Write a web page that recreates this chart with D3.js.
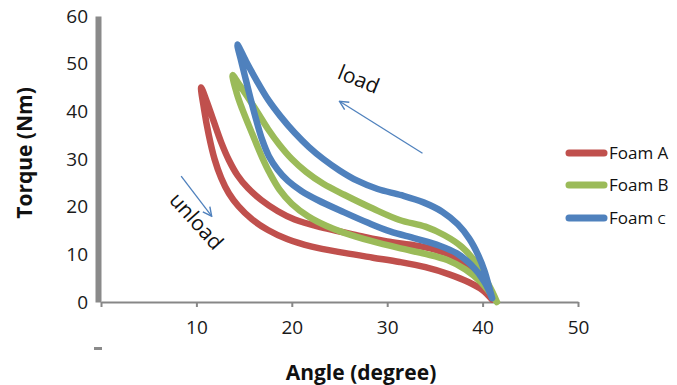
<!DOCTYPE html>
<html>
<head>
<meta charset="utf-8">
<script src="https://cdn.jsdelivr.net/npm/d3@7"></script>
<style>
  html, body { margin: 0; padding: 0; background: #fff; }
  svg { display: block; font-family: "Open Sans", "Liberation Sans", sans-serif; }
</style>
</head>
<body>
<svg id="chart" width="677" height="385"></svg>
<script>
// ---- data (angle in degrees, torque in Nm) ----
const seriesNames = ["Foam A", "Foam B", "Foam C"];
const xTicks = [0, 10, 20, 30, 40, 50];
const yTicks = [0, 10, 20, 30, 40, 50, 60];

// each loop: loading branch (from ~41°, 0 up to the peak) then unloading branch back down
const foamA = [
  [41.0,0.5],[40.2,3],[39.0,6.3],[37.3,9.2],[35.0,11],[32.5,12],[30.0,12.7],[27.5,13.7],[25.5,14.6],
  [23.0,15.7],[20.3,17.3],[18.5,19.1],[16.8,21.4],[15.4,23.9],[14.3,26.6],[13.4,29.8],[12.6,33.5],
  [11.8,38],[11.1,42],[10.5,45],
  [10.8,40.5],[11.3,35],[11.9,30],[12.6,26],[13.4,22.8],[14.4,20.1],[15.8,17.4],[17.5,15.1],[19.5,13.2],
  [22.1,11.6],[25.5,10.3],[28.5,9.3],[31.3,8.4],[34.0,7.3],[36.5,5.8],[38.5,4.2],[40.0,2.5],[41.0,0.5]
];
const foamB = [
  [41.5,0],[41.0,2.2],[40.2,5.2],[39.2,8.5],[37.8,11.6],[36.0,14],[34.0,15.8],[31.3,17.2],[28.5,19.6],
  [25.5,22.5],[23.3,24.8],[21.5,27.3],[20.0,30],[18.7,33],[17.5,36.3],[16.4,39.8],[15.3,43.2],[14.5,45.6],[13.8,47.6],
  [14.2,44],[14.8,40.5],[15.5,37],[16.2,33.6],[16.9,30.3],[17.7,27],[18.7,23.6],[20.0,20.6],[21.7,18],
  [23.6,16],[25.5,14.5],[28.3,12.8],[31.3,11.3],[34.0,10.1],[36.3,8.8],[38.2,6.8],[39.8,4.2],[41.5,0]
];
const foamC = [
  [41.0,0.8],[40.7,3],[40.2,6.5],[39.5,10],[38.6,13.3],[37.4,16.3],[35.8,18.9],[33.8,20.9],[31.5,22.4],
  [29.0,23.7],[26.8,25.5],[25.0,27.6],[23.3,30],[21.8,32.5],[20.3,35.5],[18.8,39],[17.5,42.5],[16.3,46.5],
  [15.2,50.5],[14.3,54],
  [14.7,50.5],[15.2,46.5],[15.7,42.5],[16.3,38],[16.9,34],[17.6,30.6],[18.5,27.8],[19.6,25.4],[21.0,23.3],
  [22.7,21.4],[25.5,18.8],[28.0,16.6],[30.3,14.8],[33.0,13.3],[35.5,11.8],[37.3,10.2],[38.8,7.8],[40.2,4.2],[41.0,0.8]
];
const seriesData = [foamA, foamB, foamC];
const colors = ["#C0504D", "#9BBB59", "#4F81BD"];

// annotation arrows (data coordinates: from -> to)
const loadArrow = [[33.7,31.2],[25.0,42.1]];
const unloadArrow = [[8.4,26.4],[11.6,18.0]];

// ---- layout ----
const svg = d3.select("#chart");
const x = d3.scaleLinear().domain([0, 50]).range([101, 578]);
const y = d3.scaleLinear().domain([0, 60]).range([302, 16]);

// arrow marker
svg.append("defs").append("marker")
  .attr("id", "arr").attr("viewBox", "0 0 10 10").attr("refX", 9).attr("refY", 5)
  .attr("markerWidth", 11).attr("markerHeight", 11).attr("markerUnits", "userSpaceOnUse")
  .attr("orient", "auto")
  .append("path").attr("d", "M1,1 L9,5 L1,9").attr("fill", "none")
  .attr("stroke", "#4F81BD").attr("stroke-width", 1.3);

// x axis
const gx = svg.append("g").attr("transform", `translate(0,302)`)
  .call(d3.axisBottom(x).tickValues(xTicks).tickSize(5).tickSizeOuter(0).tickPadding(14)
    .tickFormat(d => d === 0 ? "" : d));
gx.select(".domain").attr("stroke", "#878787").attr("stroke-width", 2.2);
gx.selectAll(".tick line").attr("stroke", "#878787").attr("stroke-width", 2);
gx.selectAll(".tick text").attr("font-size", 19).attr("fill", "#1a1a1a")
  .attr("font-family", "'Open Sans', sans-serif");

// y axis
const gy = svg.append("g").attr("transform", `translate(98,0)`)
  .call(d3.axisLeft(y).tickValues(yTicks).tickSize(0).tickPadding(10));
gy.select(".domain").attr("stroke", "#8a8a8a").attr("stroke-width", 6);
gy.selectAll(".tick text").attr("font-size", 19).attr("fill", "#1a1a1a")
  .attr("font-family", "'Open Sans', sans-serif");

// small stray grey mark under the axis origin
svg.append("rect").attr("x", 94).attr("y", 347).attr("width", 8).attr("height", 3).attr("fill", "#8a8a8a");

// series
const line = d3.line().x(d => x(d[0])).y(d => y(d[1])).curve(d3.curveCatmullRom.alpha(0.5));
svg.append("g").selectAll("path").data(seriesData).join("path")
  .attr("d", line)
  .attr("fill", "none")
  .attr("stroke", (d, i) => colors[i])
  .attr("stroke-width", 6.5)
  .attr("stroke-linecap", "round")
  .attr("stroke-linejoin", "round");

// annotation arrows
[loadArrow, unloadArrow].forEach(a => {
  svg.append("line")
    .attr("x1", x(a[0][0])).attr("y1", y(a[0][1]))
    .attr("x2", x(a[1][0])).attr("y2", y(a[1][1]))
    .attr("stroke", "#4F81BD").attr("stroke-width", 1.3)
    .attr("marker-end", "url(#arr)");
});

svg.append("text").text("load")
  .attr("transform", "translate(356,86) rotate(22)")
  .attr("text-anchor", "middle").attr("font-size", 21).attr("fill", "#111");
svg.append("text").text("unload")
  .attr("transform", "translate(191,226) rotate(48)")
  .attr("text-anchor", "middle").attr("font-size", 21).attr("fill", "#111");

// axis titles
svg.append("text").text("Angle (degree)")
  .attr("x", 361).attr("y", 380).attr("text-anchor", "middle")
  .attr("font-size", 21).attr("font-weight", "bold").attr("fill", "#111");
svg.append("text").text("Torque (Nm)")
  .attr("transform", "translate(32,153) rotate(-90)").attr("text-anchor", "middle")
  .attr("font-size", 21).attr("font-weight", "bold").attr("fill", "#111");

// legend
const legY = [153, 185, 218];
const leg = svg.append("g");
seriesNames.forEach((name, i) => {
  leg.append("line").attr("x1", 569).attr("x2", 604).attr("y1", legY[i]).attr("y2", legY[i])
    .attr("stroke", colors[i]).attr("stroke-width", 7).attr("stroke-linecap", "round");
  const t = leg.append("text").attr("x", 609).attr("y", legY[i] + 6)
    .attr("font-size", 17).attr("fill", "#111");
  if (i === 2) {
    t.append("tspan").text("Foam ");
    t.append("tspan").text("C").attr("font-size", 13);
  } else {
    t.text(name);
  }
});
</script>
</body>
</html>
